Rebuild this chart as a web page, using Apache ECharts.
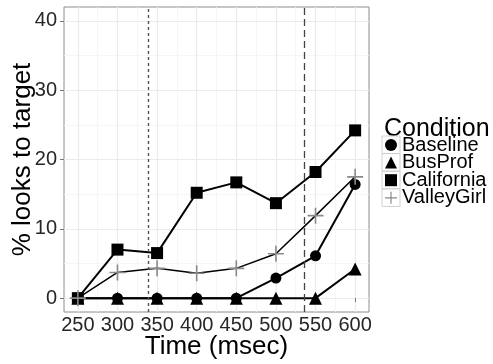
<!DOCTYPE html>
<html>
<head>
<meta charset="utf-8">
<script src="https://cdn.jsdelivr.net/npm/echarts@6/dist/echarts.min.js"></script>
<style>
html,body{margin:0;padding:0;background:#fff;}
#chart{width:493px;height:364px;}
</style>
</head>
<body>
<div id="chart"></div>
<script>
// ---- data ----
const times = [250, 300, 350, 400, 450, 500, 550, 600];
const baseline = [0, 0, 0, 0, 0, 2.9, 6.1, 16.4];
const busProf = [0, 0, 0, 0, 0, 0, 0, 4.2];
const california = [0, 7.0, 6.5, 15.2, 16.7, 13.7, 18.2, 24.2];
const valleyGirl = [0, 3.7, 4.3, 3.6, 4.3, 6.4, 11.9, 17.5];
const seriesNames = ['Baseline', 'BusProf', 'California', 'ValleyGirl'];
const xTicks = [250, 300, 350, 400, 450, 500, 550, 600];
const xMinor = [275, 325, 375, 425, 475, 525, 575];
const yTicks = [0, 10, 20, 30, 40];
const yMinor = [5, 15, 25, 35];
const windowLines = [339, 536];
const legendTitle = 'Condition';

const FONT = '"Liberation Sans", Arial, sans-serif';
const plusPath = 'path://M7.2,0H8.8V7.2H16V8.8H8.8V16H7.2V8.8H0V7.2H7.2Z';
const pairs = (ys) => times.map((t, i) => [t, ys[i]]);

const legendTop = 136, legendItemH = 17.6, keyLeft = 382, keyW = 18;

const chart = echarts.init(document.getElementById('chart'), null, {renderer: 'canvas'});

function mainSeries(name, ys, symbol, size, color, width) {
  return {
    name: name, type: 'line', data: pairs(ys),
    xAxisIndex: 0, yAxisIndex: 0,
    symbol: symbol, symbolSize: size, showSymbol: true,
    itemStyle: {color: color},
    lineStyle: {color: '#000', width: width},
    emphasis: {disabled: true}, animation: false, z: 3
  };
}

const series = [
  mainSeries(seriesNames[0], baseline, 'circle', 11, '#000', 2),
  mainSeries(seriesNames[1], busProf, 'triangle', 13, '#000', 2),
  mainSeries(seriesNames[2], california, 'rect', 12, '#000', 2),
  mainSeries(seriesNames[3], valleyGirl, plusPath, 16, '#8a8a8a', 1.5)
];
series[0].markLine = {
  silent: true, symbol: 'none', animation: false,
  label: {show: false},
  data: [
    {xAxis: windowLines[0], lineStyle: {type: [3, 3], color: '#555', width: 1.4}},
    {xAxis: windowLines[1], lineStyle: {type: [7, 4], color: '#444', width: 1.3}}
  ]
};

const keyRects = seriesNames.map((n, i) => ({
  type: 'rect', id: 'key' + i,
  shape: {x: keyLeft, y: legendTop + i * legendItemH, width: keyW, height: legendItemH},
  style: {fill: 'none', stroke: '#d0d0d0', lineWidth: 1}, z: 10, silent: true
}));

const option = {
  animation: false,
  textStyle: {fontFamily: FONT},
  title: {
    text: legendTitle, left: 384, top: 117, padding: 0,
    textStyle: {fontSize: 25, fontWeight: 'normal', color: '#000', fontFamily: FONT}
  },
  legend: {
    orient: 'vertical', left: 385, top: legendTop - 1,
    padding: 0, itemGap: -2.4, itemWidth: 12, itemHeight: 12,
    selectedMode: false,
    textStyle: {fontSize: 20, color: '#000', fontFamily: FONT},
    data: [
      {name: seriesNames[0], icon: 'circle'},
      {name: seriesNames[1], icon: 'triangle'},
      {name: seriesNames[2], icon: 'rect'},
      {name: seriesNames[3], icon: plusPath}
    ]
  },
  graphic: {elements: keyRects},
  grid: {
    left: 64, right: 124, top: 7, bottom: 52,
    outerBoundsMode: 'none', containLabel: false,
    show: true, borderColor: '#8c8c8c', borderWidth: 1, backgroundColor: '#fff'
  },
  xAxis: [
    {
      type: 'value', min: 232.5, max: 617.5, position: 'bottom',
      name: 'Time (msec)', nameLocation: 'middle', nameGap: 22, nameMoveOverlap: false,
      nameTextStyle: {fontSize: 26, color: '#000', fontFamily: FONT},
      axisLine: {show: false},
      axisTick: {show: true, customValues: xTicks, length: 4, lineStyle: {color: '#777'}},
      axisLabel: {customValues: xTicks, fontSize: 20, color: '#262626', margin: 3, fontFamily: FONT},
      splitLine: {show: true, customValues: xTicks, lineStyle: {color: '#ebebeb', width: 1.2}}
    },
    {
      type: 'value', min: 232.5, max: 617.5, position: 'bottom',
      axisLine: {show: false},
      axisTick: {show: false, customValues: xMinor},
      axisLabel: {show: false, customValues: xMinor},
      splitLine: {show: true, customValues: xMinor, lineStyle: {color: '#f4f4f4', width: 0.8}}
    }
  ],
  yAxis: [
    {
      type: 'value', min: -2, max: 42,
      name: '% looks to target', nameLocation: 'middle', nameGap: 28, nameMoveOverlap: false,
      nameTextStyle: {fontSize: 26, color: '#000', fontFamily: FONT},
      axisLine: {show: false},
      axisTick: {show: true, customValues: yTicks, length: 4, lineStyle: {color: '#777'}},
      axisLabel: {customValues: yTicks, fontSize: 20, color: '#262626', margin: 7, fontFamily: FONT},
      splitLine: {show: true, customValues: yTicks, lineStyle: {color: '#ebebeb', width: 1.2}}
    },
    {
      type: 'value', min: -2, max: 42, position: 'left',
      axisLine: {show: false},
      axisTick: {show: false, customValues: yMinor},
      axisLabel: {show: false, customValues: yMinor},
      splitLine: {show: true, customValues: yMinor, lineStyle: {color: '#f4f4f4', width: 0.8}}
    }
  ],
  series: series
};
chart.setOption(option);
</script>
</body>
</html>
